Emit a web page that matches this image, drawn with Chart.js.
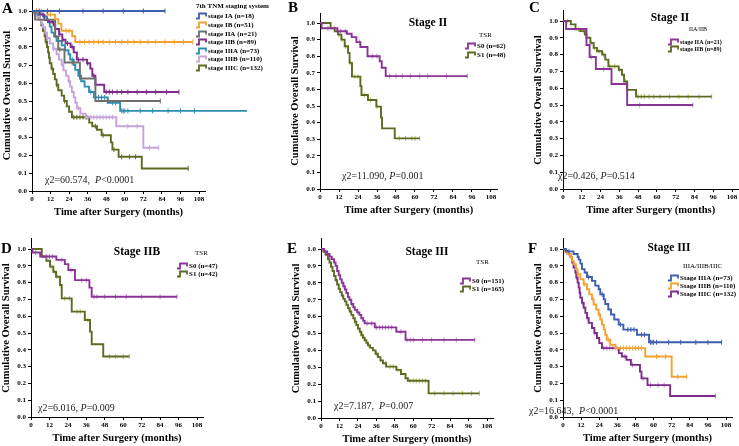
<!DOCTYPE html>
<html>
<head>
<meta charset="utf-8">
<script src="https://cdn.jsdelivr.net/npm/chart.js@4.4.1/dist/chart.umd.min.js"></script>
<style>
  body { margin: 0; background: #fff; }
  #wrap { position: relative; width: 739px; height: 446px; overflow: hidden; }
  #wrap canvas { position: absolute; left: 0; top: 0; }
</style>
</head>
<body>
<div id="wrap"></div>
<script>
// ── axis ticks ──
const xTicks = [0, 12, 24, 36, 48, 60, 72, 84, 96, 108];
const yTicks = [0, 0.1, 0.2, 0.3, 0.4, 0.5, 0.6, 0.7, 0.8, 0.9, 1.0];

// ── stage cohorts (event times, survival after event, censor times) ──
const IA_t = [];
const IA_s = [];
const IA_c = [4.7, 10, 17.7, 33, 46, 59, 72, 86];
const IA_end = 86;

const IB_t = [10, 15, 17, 19, 26, 28];
const IB_s = [0.98, 0.955, 0.93, 0.89, 0.86, 0.828];
const IB_c = [3, 6, 12, 22, 24, 31, 34, 37, 40, 43, 46, 50, 54, 58, 62, 66, 70, 75, 80, 86, 92, 98, 104];
const IB_end = 104;

const IIA_t = [2, 15, 17, 21, 31, 41];
const IIA_s = [0.952, 0.857, 0.786, 0.714, 0.625, 0.50];
const IIA_c = [18, 26, 49, 83];
const IIA_end = 83;

const IIB_t = [5, 8, 11, 14, 15, 17.5, 19.6, 21.7, 25, 27, 29, 35.6, 37.7, 39, 41, 46.7];
const IIB_s = [0.98, 0.95, 0.94, 0.92, 0.90, 0.87, 0.84, 0.82, 0.80, 0.77, 0.73, 0.71, 0.68, 0.64, 0.59, 0.55];
const IIB_c = [3, 10, 13, 18, 20, 23, 26, 30, 33, 36, 40, 48, 50, 52, 55, 58, 62, 68, 74, 80, 87, 95];
const IIB_end = 95;

const IIIA_t = [2, 7, 9.7, 10.4, 11.5, 12.6, 14.3, 15.9, 19.2, 21.4, 23.6, 24.7, 27, 28, 30, 31.8, 34, 36.9, 40, 49, 57];
const IIIA_s = [0.986, 0.97, 0.952, 0.937, 0.913, 0.88, 0.86, 0.833, 0.81, 0.782, 0.76, 0.73, 0.70, 0.673, 0.64, 0.61, 0.58, 0.55, 0.52, 0.49, 0.445];
const IIIA_c = [4, 17, 26, 38, 43, 45, 47, 52, 54, 58, 59, 60, 62, 70, 78, 88, 96, 105];
const IIIA_endA = 139;
const IIIA_endF = 105;

const IIIB_t = [1.5, 3, 5, 6, 7, 8.6, 9.7, 11.5, 13.7, 15.9, 17.4, 19.2, 20.3, 22, 23.6, 24.7, 25.8, 27, 28, 29, 31.3, 34.7, 54.5, 72];
const IIIB_s = [0.98, 0.97, 0.95, 0.93, 0.91, 0.88, 0.85, 0.82, 0.79, 0.76, 0.73, 0.70, 0.67, 0.64, 0.61, 0.58, 0.55, 0.52, 0.49, 0.46, 0.43, 0.41, 0.36, 0.24];
const IIIB_c = [10, 14, 20, 24, 30, 36, 38, 40, 42, 44, 46, 48, 50, 52, 62, 68, 76, 82];
const IIIB_end = 82;

const IIIC_t = [1, 3, 5, 6, 7, 8.2, 8.8, 9.7, 10.4, 11, 11.5, 12.6, 13.7, 14.8, 15.9, 17, 19.2, 20.8, 22.5, 24, 25.8, 37, 39, 42, 45, 51, 52, 56, 71];
const IIIC_s = [0.99, 0.97, 0.95, 0.92, 0.89, 0.86, 0.83, 0.80, 0.77, 0.74, 0.71, 0.68, 0.65, 0.62, 0.59, 0.56, 0.53, 0.50, 0.47, 0.44, 0.41, 0.38, 0.36, 0.34, 0.31, 0.27, 0.23, 0.19, 0.125];
const IIIC_c = [4, 9, 13, 16, 21, 27, 29, 31, 33, 35, 41, 46, 53, 58, 63, 67, 101];
const IIIC_end = 101;

// ── TSR groups ──
const B_S0_t = [1, 11, 17, 20, 23, 25.5, 30, 37.7, 39, 41.5];
const B_S0_s = [0.968, 0.95, 0.935, 0.915, 0.885, 0.855, 0.80, 0.77, 0.73, 0.68];
const B_S0_c = [5, 13, 16, 25, 33, 36, 44, 48, 52, 57, 63, 68, 80, 93];
const B_S0_end = 93;
const B_S1_t = [6.7, 9.3, 11.4, 13.5, 15.6, 17.7, 18.7, 20.2, 25.5, 26.2, 30.3, 35.6, 38.5, 39.2, 47.2];
const B_S1_s = [0.968, 0.95, 0.93, 0.90, 0.86, 0.82, 0.76, 0.677, 0.62, 0.566, 0.536, 0.496, 0.43, 0.365, 0.305];
const B_S1_c = [9, 12, 14, 16, 19, 22, 24, 28, 32, 36, 50, 54, 58, 60, 63];
const B_S1_end = 63;

const D_S0_t = [1, 6, 16.5, 22, 24.3, 28.6, 38, 39.5];
const D_S0_s = [0.979, 0.955, 0.935, 0.91, 0.875, 0.815, 0.77, 0.716];
const D_S0_c = [3, 10, 12, 14, 20, 26, 33, 36, 41, 43, 48, 55, 62, 72, 84, 95];
const D_S0_end = 95;
const D_S1_t = [7, 10, 12.4, 14.5, 16.3, 18.9, 20, 26.5, 35, 38.4, 39.5, 47];
const D_S1_s = [0.955, 0.93, 0.895, 0.865, 0.835, 0.786, 0.706, 0.627, 0.577, 0.508, 0.433, 0.36];
const D_S1_c = [13, 15, 17, 19, 22, 25, 30, 32, 37, 51, 55, 60, 64];
const D_S1_end = 64;

const E_S0_t = [2, 4, 5.5, 7, 8.5, 9.5, 10.5, 11.5, 12.5, 13.5, 14.5, 15.5, 16.5, 17.5, 18.5, 19.7, 21, 22, 23.5, 25, 26.2, 27.5, 28.4, 35, 49, 55];
const E_S0_s = [0.985, 0.97, 0.955, 0.94, 0.92, 0.90, 0.87, 0.845, 0.82, 0.80, 0.78, 0.76, 0.74, 0.715, 0.70, 0.675, 0.655, 0.64, 0.625, 0.61, 0.59, 0.575, 0.56, 0.536, 0.51, 0.462];
const E_S0_c = [6, 15, 20, 24, 30, 33, 36, 38, 40, 42, 44, 46, 52, 56, 58, 60, 66, 72, 80, 88, 100];
const E_S0_end = 100;
const E_S1_t = [1.5, 3, 4.5, 5.5, 6.5, 7.5, 8.5, 9.5, 10.5, 11.5, 12.5, 13.5, 14.5, 15.5, 16.5, 17.5, 18.7, 19.7, 21, 22, 23, 24, 25.2, 26.2, 27.3, 28.4, 29.5, 30.5, 32, 33.8, 35.5, 37, 38.7, 40.3, 42.4, 49, 52, 55, 56.5, 70];
const E_S1_s = [0.985, 0.965, 0.94, 0.92, 0.895, 0.87, 0.84, 0.815, 0.79, 0.765, 0.745, 0.725, 0.705, 0.69, 0.67, 0.65, 0.63, 0.61, 0.59, 0.57, 0.55, 0.53, 0.51, 0.49, 0.475, 0.46, 0.445, 0.43, 0.415, 0.40, 0.38, 0.36, 0.34, 0.324, 0.304, 0.285, 0.26, 0.235, 0.22, 0.146];
const E_S1_c = [10, 14, 18, 22, 27, 31, 36, 42, 45, 47, 50, 58, 60, 62, 64, 66, 68, 74, 80, 86, 92, 98, 103];
const E_S1_end = 103;

// ── labels ──
const A_labels = ['stage IA (n=18)', 'stage IB (n=51)', 'stage IIA (n=21)', 'stage IIB (n=89)', 'stage IIIA (n=73)', 'stage IIIB (n=110)', 'stage IIIC (n=132)'];
const B_labels = ['S0 (n=62)', 'S1 (n=48)'];
const C_labels = ['stage IIA (n=21)', 'stage IIB (n=89)'];
const D_labels = ['S0 (n=47)', 'S1 (n=42)'];
const E_labels = ['S0 (n=151)', 'S1 (n=165)'];
const F_labels = ['Stage IIIA (n=73)', 'Stage IIIB (n=110)', 'Stage IIIC (n=132)'];

// ── colours ──
const cBlue = '#3f5fae', cOrange = '#f2a232', cGray = '#6e6e6e', cPurple = '#7e2a8c',
      cTeal = '#2f8db0', cLilac = '#c6a4da', cOlive = '#5e6a22', cViolet = '#8a3596';
const cenPurple = '#c57ad0', cenOlive = '#b7bf52';

const W = 739, H = 446, YW = 31, XH = 28;
const SERIF = '"Liberation Serif", "Times New Roman", serif';

function kmLine(t, s, end) {
  const pts = [{ x: 0, y: 1 }];
  t.forEach((v, i) => pts.push({ x: v, y: s[i] }));
  pts.push({ x: end, y: s.length ? s[s.length - 1] : 1 });
  return pts;
}
function survAt(t, s, time) {
  let y = 1;
  for (let i = 0; i < t.length; i++) if (t[i] <= time) y = s[i];
  return y;
}
function ser(t, s, c, end, color, cen, label) {
  return { t, s, c, end, color, cen: cen || color, label };
}

const panels = [
  {
    letter: 'A', letterPos: [2, 9], box: [32, 199, 11, 191],
    stat: [['χ2=60.574,  ', false], ['P', true], ['<0.0001', false]], statPos: [45, 180],
    legTitle: '7th TNM staging system', legTitlePos: [196, 6], legBold: true, legX: 196, legFont: 7,
    legRows: [16, 25, 34, 42, 51, 59, 68],
    series: [
      ser(IA_t, IA_s, IA_c, IA_end, cBlue, null, A_labels[0]),
      ser(IB_t, IB_s, IB_c, IB_end, cOrange, null, A_labels[1]),
      ser(IIA_t, IIA_s, IIA_c, IIA_end, cGray, null, A_labels[2]),
      ser(IIB_t, IIB_s, IIB_c, IIB_end, cPurple, null, A_labels[3]),
      ser(IIIA_t, IIIA_s, IIIA_c, IIIA_endA, cTeal, null, A_labels[4]),
      ser(IIIB_t, IIIB_s, IIIB_c, IIIB_end, cLilac, null, A_labels[5]),
      ser(IIIC_t, IIIC_s, IIIC_c, IIIC_end, cOlive, null, A_labels[6])
    ]
  },
  {
    letter: 'B', letterPos: [288, 8], box: [320, 491, 23, 189], title: 'Stage II', titlePos: [428, 23],
    stat: [['χ2=11.090, ', false], ['P', true], ['=0.001', false]], statPos: [342, 176],
    legTitle: 'TSR', legTitlePos: [479, 35], legBold: false, legX: 465, legFont: 7, legRows: [46, 55],
    series: [
      ser(B_S0_t, B_S0_s, B_S0_c, B_S0_end, cViolet, cenPurple, B_labels[0]),
      ser(B_S1_t, B_S1_s, B_S1_c, B_S1_end, cOlive, cenOlive, B_labels[1])
    ]
  },
  {
    letter: 'C', letterPos: [529, 8], box: [563, 732, 21, 189], title: 'Stage II', titlePos: [670, 18],
    stat: [['χ2=0.426, ', false], ['P', true], ['=0.514', false]], statPos: [558, 176],
    legTitle: 'IIA/IIB', legTitlePos: [689, 29], legBold: false, legX: 668, legFont: 6, legRows: [42, 49],
    series: [
      ser(IIA_t, IIA_s, IIA_c, IIA_end, cViolet, cenPurple, C_labels[0]),
      ser(IIB_t, IIB_s, IIB_c, IIB_end, cOlive, cenOlive, C_labels[1])
    ]
  },
  {
    letter: 'D', letterPos: [1, 249], box: [31, 197, 249, 417], title: 'Stage IIB', titlePos: [137, 252],
    stat: [['χ2=6.016, ', false], ['P', true], ['=0.009', false]], statPos: [38, 408],
    legTitle: 'TSR', legTitlePos: [195, 253], legBold: false, legX: 177, legFont: 7, legRows: [266, 274],
    series: [
      ser(D_S0_t, D_S0_s, D_S0_c, D_S0_end, cViolet, cenPurple, D_labels[0]),
      ser(D_S1_t, D_S1_s, D_S1_c, D_S1_end, cOlive, cenOlive, D_labels[1])
    ]
  },
  {
    letter: 'E', letterPos: [287, 249], box: [321, 487, 249, 418], title: 'Stage III', titlePos: [427, 252],
    stat: [['χ2=7.187,  ', false], ['P', true], ['=0.007', false]], statPos: [334, 406],
    legTitle: 'TSR', legTitlePos: [476, 262], legBold: false, legX: 460, legFont: 7, legRows: [281, 289],
    series: [
      ser(E_S0_t, E_S0_s, E_S0_c, E_S0_end, cViolet, cenPurple, E_labels[0]),
      ser(E_S1_t, E_S1_s, E_S1_c, E_S1_end, cOlive, cenOlive, E_labels[1])
    ]
  },
  {
    letter: 'F', letterPos: [528, 249], box: [563, 726, 249, 417], title: 'Stage III', titlePos: [669, 248],
    stat: [['χ2=16.643,  ', false], ['P', true], ['<0.0001', false]], statPos: [529, 411],
    legTitle: 'IIIA/IIIB/IIIC', legTitlePos: [683, 266], legBold: false, legX: 668, legFont: 7, legRows: [278, 286, 294],
    series: [
      ser(IIIA_t, IIIA_s, IIIA_c, IIIA_endF, cBlue, null, F_labels[0]),
      ser(IIIB_t, IIIB_s, IIIB_c, IIIB_end, cOrange, null, F_labels[1]),
      ser(IIIC_t, IIIC_s, IIIC_c, IIIC_end, cPurple, cenPurple, F_labels[2])
    ]
  }
];

// panel letter, title, chi2 text and legend
function makeDecor(p) {
  return {
    id: 'decor' + p.letter,
    afterDraw(chart) {
      const ctx = chart.ctx;
      ctx.save();
      ctx.fillStyle = '#000';
      ctx.textBaseline = 'middle';
      ctx.textAlign = 'left';
      ctx.font = `bold 15px ${SERIF}`;
      ctx.fillText(p.letter, p.letterPos[0], p.letterPos[1]);

      if (p.title) {
        ctx.font = `bold 11.5px ${SERIF}`;
        ctx.textAlign = 'center';
        ctx.fillText(p.title, p.titlePos[0], p.titlePos[1]);
        ctx.textAlign = 'left';
      }

      // chi2 annotation
      let x = p.statPos[0];
      ctx.fillStyle = '#222';
      p.stat.forEach(([txt, it]) => {
        ctx.font = `${it ? 'italic ' : ''}10px ${SERIF}`;
        ctx.fillText(txt, x, p.statPos[1]);
        x += ctx.measureText(txt).width;
      });

      // legend
      ctx.fillStyle = '#000';
      ctx.font = `${p.legBold ? 'bold ' : ''}${p.legFont}px ${SERIF}`;
      ctx.fillText(p.legTitle, p.legTitlePos[0], p.legTitlePos[1]);
      ctx.font = `bold ${p.legFont}px ${SERIF}`;
      p.series.forEach((se, i) => {
        const y = p.legRows[i], lx = p.legX;
        ctx.strokeStyle = se.color;
        ctx.lineWidth = 1.8;
        ctx.beginPath();
        ctx.moveTo(lx, y + 2.5);
        ctx.lineTo(lx + 3, y + 2.5);
        ctx.lineTo(lx + 3, y - 2.5);
        ctx.lineTo(lx + 10, y - 2.5);
        ctx.lineTo(lx + 10, y + 0.5);
        ctx.stroke();
        ctx.fillText(se.label, lx + 12, y);
      });
      ctx.restore();
    }
  };
}

const tickFont = { family: SERIF, size: 7, weight: 'bold' };
const titleFont = { family: SERIF, size: 10.5, weight: 'bold', lineHeight: 1.2 };

function makeChart(p) {
  const cv = document.createElement('canvas');
  cv.width = W; cv.height = H;
  document.getElementById('wrap').appendChild(cv);

  const [x0, x108, y1, y0] = p.box;
  const ppm = (x108 - x0) / 108;
  const ppu = y0 - y1;

  const datasets = [];
  p.series.forEach(se => {
    datasets.push({
      data: kmLine(se.t, se.s, se.end),
      borderColor: se.color,
      borderWidth: 1.9,
      stepped: true,
      pointRadius: 0,
      fill: false,
      clip: false
    });
    datasets.push({
      data: se.c.map(c => ({ x: c, y: survAt(se.t, se.s, c) })),
      showLine: false,
      pointStyle: 'line',
      rotation: 90,
      pointRadius: 2.5,
      borderColor: se.cen,
      borderWidth: 1,
      clip: false
    });
  });

  new Chart(cv, {
    type: 'line',
    data: { datasets },
    options: {
      responsive: false,
      animation: false,
      devicePixelRatio: 1,
      layout: {
        autoPadding: false,
        padding: {
          left: x0 - YW,
          right: W - (x0 + 112 * ppm),
          top: y0 - 1.06 * ppu,
          bottom: H - y0 - XH
        }
      },
      plugins: { legend: { display: false }, tooltip: { enabled: false } },
      scales: {
        x: {
          type: 'linear', min: 0, max: 112,
          afterBuildTicks(s) { s.ticks = xTicks.map(v => ({ value: v })); },
          afterFit(s) { s.height = XH; s.paddingLeft = 0; s.paddingRight = 0; },
          grid: { drawOnChartArea: false, drawTicks: true, tickLength: 3, color: '#000' },
          border: { color: '#000', width: 1 },
          ticks: { font: tickFont, color: '#000', padding: 1, maxRotation: 0, autoSkip: false, callback: v => String(v) },
          title: { display: true, text: 'Time after Surgery (months)', font: titleFont, color: '#000', padding: 0 }
        },
        y: {
          type: 'linear', min: 0, max: 1.06,
          afterBuildTicks(s) { s.ticks = yTicks.map(v => ({ value: v })); },
          afterFit(s) { s.width = YW; s.paddingTop = 0; s.paddingBottom = 0; },
          grid: { drawOnChartArea: false, drawTicks: true, tickLength: 3, color: '#000' },
          border: { color: '#000', width: 1 },
          ticks: { font: tickFont, color: '#000', padding: 2, autoSkip: false, callback: v => v.toFixed(1) },
          title: { display: true, text: 'Cumulative Overall Survival', font: titleFont, color: '#000', padding: 0 }
        }
      }
    },
    plugins: [makeDecor(p)]
  });
}

panels.forEach(makeChart);
</script>
</body>
</html>
